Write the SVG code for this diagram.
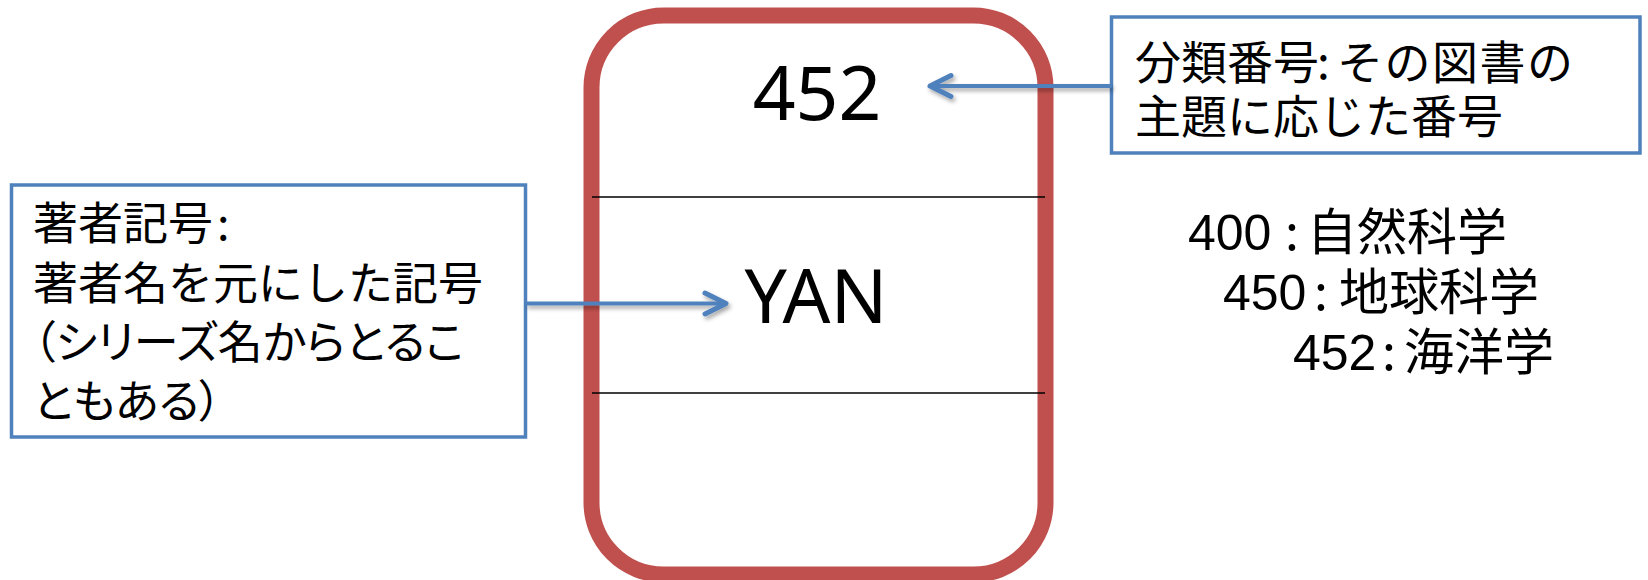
<svg xmlns="http://www.w3.org/2000/svg" width="1648" height="580" viewBox="0 0 1648 580">
  <style>
    .jp { font-family: "Noto Sans CJK JP", "Noto Sans", sans-serif; fill: #000; }
    .big { font-family: "Noto Sans", "Open Sans", sans-serif; font-size: 75px; fill: #000; }
    .num { font-family: "Liberation Sans", Arial, sans-serif; }
    .note { fill: #FFFFFF; stroke: #4F81BD; stroke-width: 3.5; }
    .conn { fill: none; stroke: #4F81BD; stroke-width: 4; }
    .div { stroke: #000; stroke-width: 1.6; }
  </style>
  <defs>
    <marker id="arr" markerUnits="userSpaceOnUse" markerWidth="40" markerHeight="40" viewBox="-30 -20 40 40" refX="0" refY="0" orient="auto" overflow="visible">
      <path d="M-21,-10.5 L0,0 L-21,10.5" fill="none" stroke="#4F81BD" stroke-width="5" stroke-linecap="round" stroke-linejoin="round"/>
    </marker>
    <filter id="sh" x="-10%" y="-50%" width="120%" height="200%">
      <feDropShadow dx="2" dy="3" stdDeviation="2" flood-color="#000" flood-opacity="0.35"/>
    </filter>
  </defs>
  <rect width="1648" height="580" fill="#FFFFFF"/>

  <g id="book">
    <rect x="591.5" y="15.5" width="454" height="559" rx="72" ry="72" fill="#FFFFFF" stroke="#C0504D" stroke-width="16"/>
    <line class="div" x1="592" y1="197" x2="1045" y2="197"/>
    <line class="div" x1="592" y1="393" x2="1045" y2="393"/>
    <text class="big" x="817" y="120" text-anchor="middle">452</text>
    <text class="big" x="816" y="323" text-anchor="middle">YAN</text>
  </g>

  <g id="class-note">
    <rect class="note" x="1111.5" y="17" width="528.5" height="136"/>
    <text class="jp" font-size="46" y="79"><tspan x="1135">分類番号</tspan><tspan x="1317">:</tspan><tspan x="1337" letter-spacing="1.5">その図書の</tspan></text>
    <text class="jp" font-size="46" x="1135" y="133">主題に応じた番号</text>
  </g>

  <g id="author-note">
    <rect class="note" x="11.5" y="185" width="514" height="252"/>
    <text class="jp" font-size="45" x="33" y="240">著者記号<tspan dx="4">:</tspan></text>
    <text class="jp" font-size="45" x="33" y="300">著者名を元にした記号</text>
    <text class="jp" font-size="45" x="33" y="359" style="font-feature-settings:'palt'">（シリーズ名からとるこ</text>
    <text class="jp" font-size="45" x="33" y="418" style="font-feature-settings:'palt'">ともある）</text>
  </g>

  <g id="class-list">
    <text class="jp" font-size="50" y="250"><tspan class="num" x="1188">400</tspan><tspan x="1285">:</tspan><tspan x="1307">自然科学</tspan></text>
    <text class="jp" font-size="50" y="310"><tspan class="num" x="1223">450</tspan><tspan x="1314">:</tspan><tspan x="1339">地球科学</tspan></text>
    <text class="jp" font-size="50" y="370"><tspan class="num" x="1293">452</tspan><tspan x="1382">:</tspan><tspan x="1404">海洋学</tspan></text>
  </g>

  <g id="connectors" filter="url(#sh)">
    <line class="conn" x1="1111.5" y1="86" x2="930" y2="86" marker-end="url(#arr)"/>
    <line class="conn" x1="525.5" y1="303.5" x2="726" y2="303.5" marker-end="url(#arr)"/>
  </g>
</svg>
